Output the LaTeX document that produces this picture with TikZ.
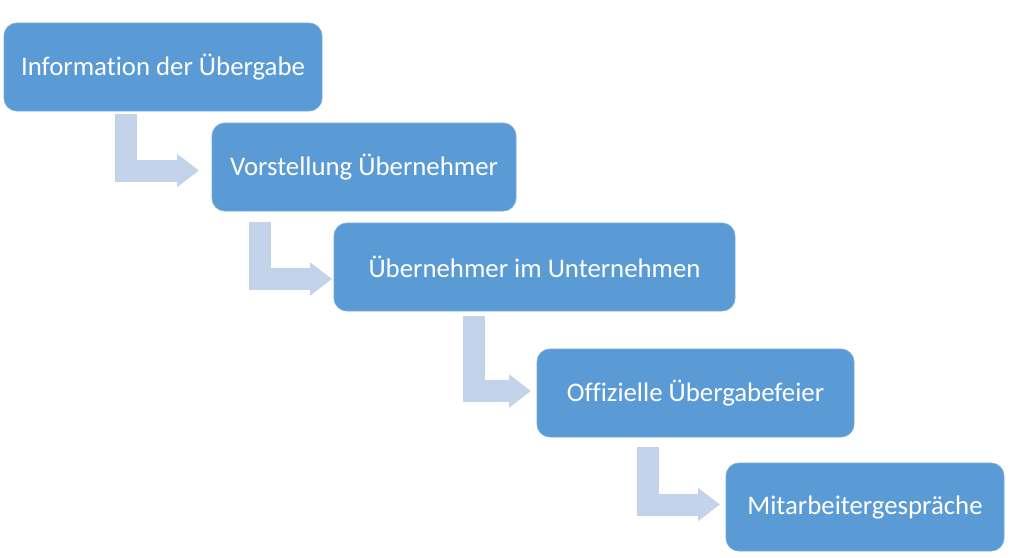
\documentclass[tikz,border=0pt]{standalone}
\usepackage{fontspec}
\setmainfont{Carlito}[Ligatures=NoCommon]
\usetikzlibrary{arrows.meta}
\definecolor{boxblue}{HTML}{5B9BD5}
\definecolor{boxedge}{HTML}{74AADC}
\definecolor{arrowblue}{HTML}{C3D4EA}
\tikzset{
  stepbox/.style={draw=boxedge, line width=0.8pt, fill=boxblue, rounded corners=13pt,
    minimum height=88pt, inner sep=0pt, text=white, font=\fontsize{26.8}{30}\selectfont},
  bentarrow/.style={draw=arrowblue, line width=22pt, line join=miter,
    -{Triangle[length=22pt,width=32pt]}},
}
\begin{document}
\begin{tikzpicture}[x=1pt,y=-1pt]
\useasboundingbox (0,0) rectangle (1024,557);
\node[stepbox, minimum width=318pt] (b1) at (163,67) {Information der Übergabe};
\node[stepbox, minimum width=304pt] (b2) at (364,167) {Vorstellung Übernehmer};
\node[stepbox, minimum width=401pt] (b3) at (534.5,267) {Übernehmer im Unternehmen};
\node[stepbox, minimum width=317pt] (b4) at (695.5,393) {Offizielle Übergabefeier};
\node[stepbox, minimum width=278pt] (b5) at (865,507) {Mitarbeitergespräche};
\coordinate (a1s) at (125.5,114);
\coordinate (a1e) at (199,170.5);
\coordinate (a2s) at (259.5,222);
\coordinate (a2e) at (332,279);
\coordinate (a3s) at (473.5,316);
\coordinate (a3e) at (531,391);
\coordinate (a4s) at (647.5,447);
\coordinate (a4e) at (720,504.5);
\draw[bentarrow] (a1s) |- (a1e);
\draw[bentarrow] (a2s) |- (a2e);
\draw[bentarrow] (a3s) |- (a3e);
\draw[bentarrow] (a4s) |- (a4e);
\end{tikzpicture}
\end{document}
